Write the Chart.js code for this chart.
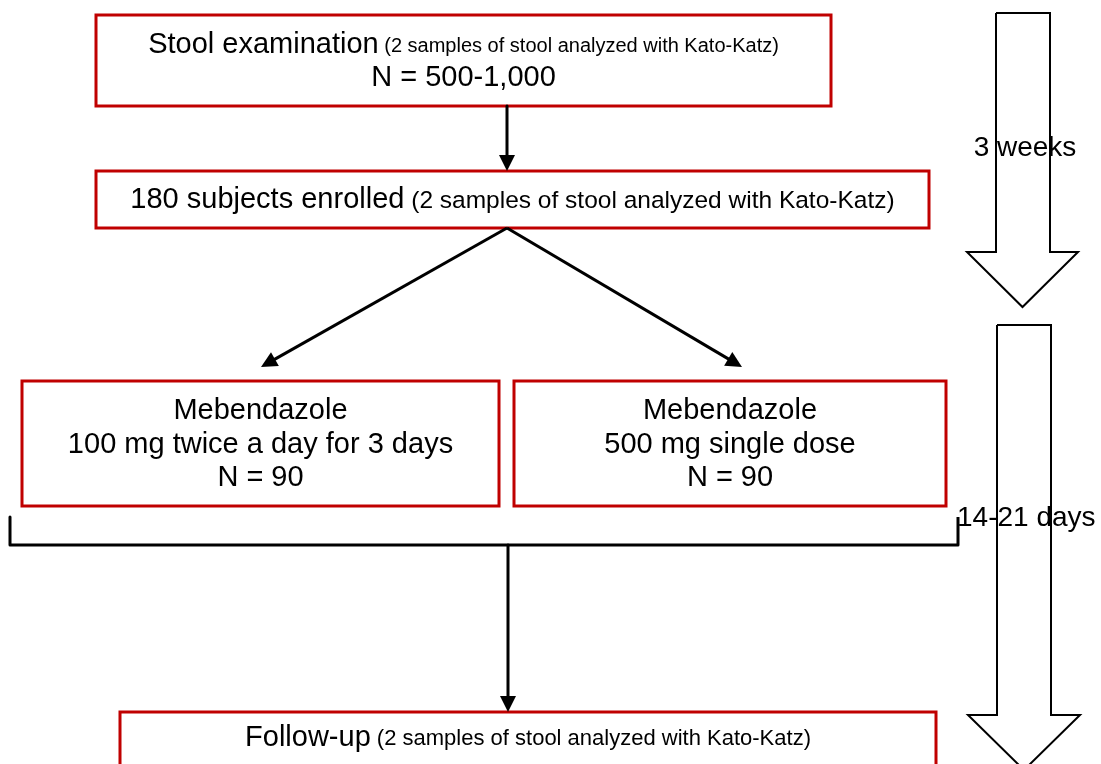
<!DOCTYPE html>
<html>
<head>
<meta charset="utf-8">
<script src="https://cdn.jsdelivr.net/npm/chart.js@4.4.1/dist/chart.umd.min.js"></script>
<style>
html,body{margin:0;padding:0;background:#ffffff;overflow:hidden}
#wrap{width:1101px;height:764px;position:relative}
</style>
</head>
<body>
<div id="wrap"><canvas id="c"></canvas></div>
<script>
// ---- content (text of the flow chart) ----
const boxTitles = ["Stool examination", "180 subjects enrolled", "Mebendazole", "Mebendazole", "Follow-up"];
const boxNotes = ["(2 samples of stool analyzed with Kato-Katz)", "(2 samples of stool analyzed with Kato-Katz)", "", "", "(2 samples of stool analyzed with Kato-Katz)"];
const boxExtraLines = [["N = 500-1,000"], [], ["100 mg twice a day for 3 days", "N = 90"], ["500 mg single dose", "N = 90"], []];
const periodLabels = ["3 weeks", "14-21 days"];

// ---- layout (sheet units, y grows downward) ----
const boxX0 = [96, 96, 22, 514, 120];
const boxX1 = [831, 929, 499, 946, 936];
const boxY0 = [15, 171, 381, 381, 712];
const boxY1 = [106, 228, 506, 506, 800];
const lineY = [[45, 78], [200], [411, 445, 478], [411, 445, 478], [738]];
const noteSize = [20, 24.5, 20, 20, 22];
const titleSize = 29;
const periodSize = 28;

const connectorX = [[507, 507], [507, 261], [507, 742], [10, 10, 958, 958], [508, 508]];
const connectorY = [[106, 171], [228, 367], [228, 367], [517, 545, 545, 517], [545, 712]];
const connectorArrow = [true, true, true, false, true];

const blockShaftX0 = [996, 997];
const blockShaftX1 = [1050, 1051];
const blockTop = [13, 325];
const blockHeadTop = [252, 715];
const blockHeadX0 = [967, 968];
const blockHeadX1 = [1078, 1080];
const blockTip = [307, 770];

const periodX = [1025, 957];
const periodY = [148, 518];
const periodAlign = ["center", "left"];

const FONT = "'Liberation Sans', Arial, Helvetica, sans-serif";
const RED = "#c00000";

// build datasets
const datasets = [];
connectorX.forEach((xs, i) => {
  const pts = xs.map((x, j) => ({x: x, y: connectorY[i][j]}));
  if (connectorArrow[i]) {
    const a = pts[pts.length - 2], b = pts[pts.length - 1];
    const dx = b.x - a.x, dy = b.y - a.y, L = Math.hypot(dx, dy);
    pts[pts.length - 1] = {x: b.x - dx / L * 12, y: b.y - dy / L * 12};
  }
  datasets.push({
    type: 'line', data: pts, showLine: true, borderColor: '#000', borderWidth: 3,
    pointRadius: 0, fill: false, tension: 0, borderJoinStyle: 'round', borderCapStyle: 'butt'
  });
});
blockTop.forEach((t, i) => {
  const cx = (blockHeadX0[i] + blockHeadX1[i]) / 2;
  const pts = [
    {x: blockShaftX0[i], y: t}, {x: blockShaftX1[i], y: t},
    {x: blockShaftX1[i], y: blockHeadTop[i]}, {x: blockHeadX1[i], y: blockHeadTop[i]},
    {x: cx, y: blockTip[i]}, {x: blockHeadX0[i], y: blockHeadTop[i]},
    {x: blockShaftX0[i], y: blockHeadTop[i]}, {x: blockShaftX0[i], y: t}
  ];
  datasets.push({
    type: 'line', data: pts, showLine: true, borderColor: '#000', borderWidth: 2,
    pointRadius: 0, fill: false, tension: 0, borderJoinStyle: 'miter'
  });
});

const flowPlugin = {
  id: 'flow',
  beforeDatasetsDraw(chart) {
    const ctx = chart.ctx, sx = chart.scales.x, sy = chart.scales.y;
    const X = v => sx.getPixelForValue(v), Y = v => sy.getPixelForValue(v);
    ctx.save();
    for (let i = 0; i < boxTitles.length; i++) {
      ctx.strokeStyle = RED;
      ctx.lineWidth = 3;
      ctx.strokeRect(X(boxX0[i]), Y(boxY0[i]), X(boxX1[i]) - X(boxX0[i]), Y(boxY1[i]) - Y(boxY0[i]));
    }
    ctx.restore();
  },
  afterDatasetsDraw(chart) {
    const ctx = chart.ctx, sx = chart.scales.x, sy = chart.scales.y;
    const X = v => sx.getPixelForValue(v), Y = v => sy.getPixelForValue(v);
    ctx.save();
    // arrow heads
    connectorX.forEach((xs, i) => {
      if (!connectorArrow[i]) return;
      const n = xs.length;
      const ax = X(xs[n - 2]), ay = Y(connectorY[i][n - 2]);
      const bx = X(xs[n - 1]), by = Y(connectorY[i][n - 1]);
      const ang = Math.atan2(by - ay, bx - ax);
      const len = 16, hw = 8;
      ctx.fillStyle = '#000';
      ctx.beginPath();
      ctx.moveTo(bx, by);
      ctx.lineTo(bx - len * Math.cos(ang) + hw * Math.sin(ang), by - len * Math.sin(ang) - hw * Math.cos(ang));
      ctx.lineTo(bx - len * Math.cos(ang) - hw * Math.sin(ang), by - len * Math.sin(ang) + hw * Math.cos(ang));
      ctx.closePath();
      ctx.fill();
    });
    // box texts
    ctx.fillStyle = '#000';
    ctx.textBaseline = 'middle';
    for (let i = 0; i < boxTitles.length; i++) {
      const cx = (X(boxX0[i]) + X(boxX1[i])) / 2;
      const big = titleSize + 'px ' + FONT;
      const small = noteSize[i] + 'px ' + FONT;
      ctx.font = big;
      const t = boxTitles[i];
      const wT = ctx.measureText(t).width;
      let wN = 0, note = boxNotes[i] ? ' ' + boxNotes[i] : '';
      if (note) { ctx.font = small; wN = ctx.measureText(note).width; }
      let x = cx - (wT + wN) / 2;
      const y0 = Y(lineY[i][0]);
      ctx.textAlign = 'left';
      ctx.font = big; ctx.fillText(t, x, y0);
      if (note) { ctx.font = small; ctx.fillText(note, x + wT, y0 + 1); }
      ctx.textAlign = 'center';
      ctx.font = big;
      boxExtraLines[i].forEach((s, k) => ctx.fillText(s, cx, Y(lineY[i][k + 1])));
    }
    // period labels
    ctx.font = periodSize + 'px ' + FONT;
    periodLabels.forEach((s, i) => {
      ctx.textAlign = periodAlign[i];
      ctx.fillText(s, X(periodX[i]), Y(periodY[i]));
    });
    ctx.restore();
  }
};

new Chart(document.getElementById('c'), {
  type: 'scatter',
  data: { datasets: datasets },
  options: {
    responsive: true,
    maintainAspectRatio: false,
    animation: false,
    events: [],
    layout: { padding: 0 },
    plugins: { legend: { display: false }, tooltip: { enabled: false }, title: { display: false } },
    scales: {
      x: { type: 'linear', min: 0, max: 1101, display: false },
      y: { type: 'linear', min: 0, max: 764, reverse: true, display: false }
    }
  },
  plugins: [flowPlugin]
});
</script>
</body>
</html>
